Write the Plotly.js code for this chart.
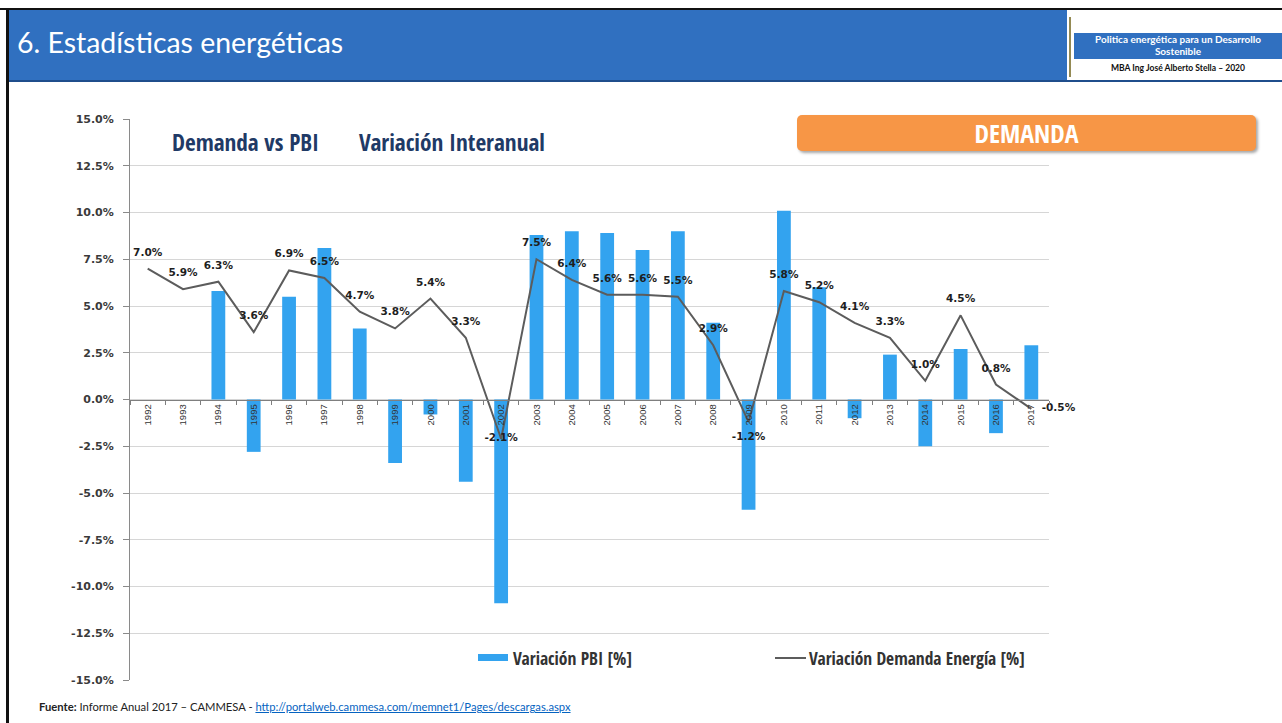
<!DOCTYPE html>
<html>
<head>
<meta charset="utf-8">
<script src="https://cdn.plot.ly/plotly-3.0.1.min.js"></script>
<style>
  html, body { margin:0; padding:0; background:#ffffff; }
  body { width:1282px; height:723px; position:relative; overflow:hidden; font-family: Lato, "Open Sans", sans-serif; }
  #chart { position:absolute; left:0; top:0; width:1282px; height:723px; }
  .abs { position:absolute; z-index:5; }
  #topline { left:0; top:8px; width:1282px; height:2px; background:#111; }
  #leftline { left:6px; top:8px; width:3px; height:715px; background:#111; }
  #band { left:9px; top:10px; width:1058px; height:71px; background:#3070c0; }
  #bandline { left:9px; top:80px; width:1273px; height:2px; background:#1f4e8c; }
  #title { left:17px; top:22px; color:#ffffff; font-size:28px; white-space:nowrap; line-height:40px; }
  #olive { left:1069px; top:17px; width:2px; height:60px; background:#948a54; }
  #rbox { left:1074px; top:33px; width:208px; height:26px; background:#3070c0; color:#fff; font-weight:bold; font-size:10px; text-align:center; line-height:11.5px; padding-top:1px; box-sizing:border-box; white-space:nowrap; }
  #author { left:1074px; top:63px; width:208px; text-align:center; font-weight:bold; font-size:8.5px; color:#111; white-space:nowrap; }
  #demanda { left:797px; top:115px; width:459px; height:36px; background:#f79646; border-radius:5px; box-shadow:2px 2px 3px rgba(0,0,0,0.35); }
  #footer { left:39px; top:700px; font-size:10.5px; line-height:14px; color:#222; white-space:nowrap; }
  #footer a { color:#0563c1; text-decoration:underline; }
</style>
</head>
<body>
<div id="chart"></div>
<div class="abs" id="topline"></div>
<div class="abs" id="band"></div>
<div class="abs" id="bandline"></div>
<div class="abs" id="leftline"></div>
<div class="abs" id="title" data-w="326">6. Estadísticas energéticas</div>
<div class="abs" id="olive"></div>
<div class="abs" id="rbox" data-w="166">Politica energética para un Desarrollo<br>Sostenible</div>
<div class="abs" id="author" data-w="134">MBA Ing José Alberto Stella – 2020</div>
<div class="abs" id="demanda"></div>
<div class="abs" id="footer" data-w="531"><b>Fuente:</b> Informe Anual 2017 – CAMMESA - <a href="#">http://portalweb.cammesa.com/memnet1/Pages/descargas.aspx</a></div>
<script>
// ---- data ----
const years = ['1992','1993','1994','1995','1996','1997','1998','1999','2000','2001','2002','2003','2004','2005','2006','2007','2008','2009','2010','2011','2012','2013','2014','2015','2016','2017'];
const pbi = [null, null, 5.8, -2.8, 5.5, 8.1, 3.8, -3.4, -0.8, -4.4, -10.9, 8.8, 9.0, 8.9, 8.0, 9.0, 4.1, -5.9, 10.1, 6.0, -1.0, 2.4, -2.5, 2.7, -1.8, 2.9];
const demanda = [7.0, 5.9, 6.3, 3.6, 6.9, 6.5, 4.7, 3.8, 5.4, 3.3, -2.1, 7.5, 6.4, 5.6, 5.6, 5.5, 2.9, -1.2, 5.8, 5.2, 4.1, 3.3, 1.0, 4.5, 0.8, -0.5];
const yTickVals = [-15, -12.5, -10, -7.5, -5, -2.5, 0, 2.5, 5, 7.5, 10, 12.5, 15];
const yTickText = ['-15.0%', '-12.5%', '-10.0%', '-7.5%', '-5.0%', '-2.5%', '0.0%', '2.5%', '5.0%', '7.5%', '10.0%', '12.5%', '15.0%'];
const labelMiddle = ['2002'];
const labelBelow = ['2009'];
const labelRight = ['2017'];
const seriesNames = ['Variación PBI [%]', 'Variación Demanda Energía [%]'];
const chartTitles = ['Demanda vs PBI', 'Variación Interanual'];
const badgeText = 'DEMANDA';

// fit html text widths
document.querySelectorAll('[data-w]').forEach(el => {
  const target = +el.dataset.w;
  let fs = parseFloat(getComputedStyle(el).fontSize);
  for (let i = 0; i < 4; i++) {
    const r = document.createRange(); r.selectNodeContents(el);
    const tw = r.getBoundingClientRect().width;
    if (tw > 0) { fs = fs * target / tw; el.style.fontSize = fs + 'px'; }
  }
});

// pick the narrowest installed bold sans for the condensed chart texts
const cv = document.createElement('canvas').getContext('2d');
function wOf(text, fam, size) { cv.font = 'bold ' + (size || 100) + 'px ' + fam; return cv.measureText(text).width; }
const probe = 'Demanda vs PBI Variación mmmwwlli 0123';
function installed(name) {
  return ['monospace', 'serif', 'sans-serif'].some(b => Math.abs(wOf(probe, '"' + name + '", ' + b) - wOf(probe, b)) > 0.5);
}
const candidates = ['Liberation Sans Narrow', 'Arial Narrow', 'Roboto Condensed', 'Noto Sans Condensed', 'Open Sans Condensed', 'DejaVu Sans Condensed', 'Liberation Sans', 'Roboto', 'Noto Sans'];
let narrowFam = 'Liberation Sans', best = Infinity;
candidates.forEach(c => {
  if (installed(c)) {
    const w = wOf('Demanda vs PBI', '"' + c + '"');
    if (w < best - 0.5) { best = w; narrowFam = c; }
  }
});
const condensed = narrowFam + ', Liberation Sans, Arial, sans-serif';
function fit(text, targetW) { return 100 * targetW / wOf(text, '"' + narrowFam + '"'); }

// ---- plot geometry helpers ----
const L = 130, R = 1049, T = 119, B = 680;
const px = x => (x - L) / (R - L);
const py = y => (B - y) / (B - T);

const textPos = years.map(y => labelMiddle.includes(y) ? 'middle center' : labelBelow.includes(y) ? 'bottom center' : (labelRight.includes(y) ? 'middle right' : 'top center'));
const textVals = demanda.map(v => v.toFixed(1) + '%');

const barColor = '#33a3ef';
const lineColor = '#5c5c5c';

const traces = [
  {
    type: 'bar', x: years, y: pbi, name: seriesNames[0],
    marker: { color: barColor }, hoverinfo: 'x+y'
  },
  {
    type: 'scatter', mode: 'lines+markers+text', x: years, y: demanda, name: seriesNames[1],
    line: { color: lineColor, width: 2 },
    marker: { size: 15, color: 'rgba(0,0,0,0)', line: { width: 0 } },
    text: textVals, textposition: textPos,
    textfont: { family: 'DejaVu Sans', size: 10.5, color: '#1e1e1e', weight: 'bold' },
    cliponaxis: false
  }
];

const titleSize0 = fit(chartTitles[0], 147);
const titleSize1 = fit(chartTitles[1], 186);
const legSize0 = fit(seriesNames[0], 119);
const legSize1 = fit(seriesNames[1], 216);
const badgeSize = fit(badgeText, 104);

const layout = {
  width: 1282, height: 723,
  margin: { l: L, r: 1282 - R, t: T, b: 723 - B, pad: 0 },
  paper_bgcolor: '#ffffff', plot_bgcolor: 'rgba(0,0,0,0)',
  showlegend: false,
  bargap: 0.61,
  xaxis: {
    type: 'category', anchor: 'free', position: 0.5,
    range: [-0.5, years.length - 0.5], autorange: false,
    showline: true, linecolor: '#7f7f7f', linewidth: 1,
    ticks: 'outside', tickson: 'boundaries', ticklen: 4, tickcolor: '#7f7f7f',
    tickangle: -90, showgrid: false,
    tickfont: { family: 'Liberation Sans, Arial, sans-serif', size: 9.5, color: '#333333' }
  },
  yaxis: {
    range: [-15, 15], autorange: false, tickvals: yTickVals, ticktext: yTickText,
    showline: true, linecolor: '#8a8a8a', linewidth: 1,
    ticks: 'outside', ticklen: 6, tickcolor: '#8a8a8a',
    showgrid: true, gridcolor: '#d6d6d6', gridwidth: 1,
    zeroline: false,
    tickfont: { family: 'DejaVu Sans', size: 11, color: '#3a3a3a', weight: 'bold' },
    ticklabelstandoff: 7
  },
  annotations: [
    { xref: 'paper', yref: 'paper', x: px(170), y: py(141.5), xanchor: 'left', yanchor: 'middle', showarrow: false,
      text: chartTitles[0], font: { family: condensed, size: titleSize0, color: '#1f3a66', weight: 'bold' } },
    { xref: 'paper', yref: 'paper', x: px(357), y: py(141.5), xanchor: 'left', yanchor: 'middle', showarrow: false,
      text: chartTitles[1], font: { family: condensed, size: titleSize1, color: '#1f3a66', weight: 'bold' } },
    { xref: 'paper', yref: 'paper', x: px(511), y: py(658), xanchor: 'left', yanchor: 'middle', showarrow: false,
      text: seriesNames[0], font: { family: condensed, size: legSize0, color: '#333333', weight: 'bold' } },
    { xref: 'paper', yref: 'paper', x: px(807), y: py(658), xanchor: 'left', yanchor: 'middle', showarrow: false,
      text: seriesNames[1], font: { family: condensed, size: legSize1, color: '#333333', weight: 'bold' } }
  ],
  shapes: [
    { type: 'rect', xref: 'paper', yref: 'paper', x0: px(478), x1: px(508), y0: py(654), y1: py(661),
      fillcolor: barColor, line: { width: 0 } },
    { type: 'line', xref: 'paper', yref: 'paper', x0: px(775), x1: px(806), y0: py(658), y1: py(658),
      line: { color: lineColor, width: 2 } }
  ]
};

Plotly.newPlot('chart', traces, layout, { staticPlot: true, displayModeBar: false }).then(() => {
  const div = document.createElement('div');
  div.className = 'abs';
  div.style.cssText = 'left:797px;top:115px;width:459px;height:36px;line-height:37px;text-align:center;color:#fff;font-weight:bold;z-index:6;font-size:' + badgeSize + 'px;';
  div.style.fontFamily = '"' + narrowFam + '", "Liberation Sans", Arial, sans-serif';
  div.textContent = badgeText;
  document.body.appendChild(div);
});
</script>
</body>
</html>
